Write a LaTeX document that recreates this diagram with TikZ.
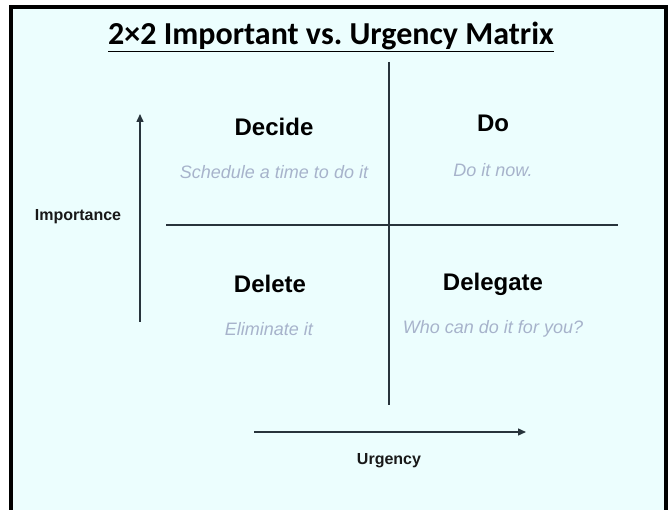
\documentclass[tikz,border=0pt]{standalone}
\usepackage{fontspec}
\setmainfont{Liberation Sans}
\newfontfamily\titlefont{Carlito}
\usetikzlibrary{arrows.meta}
\definecolor{bgcyan}{RGB}{236,254,254}
\definecolor{axisc}{RGB}{40,52,60}
\definecolor{subc}{RGB}{167,179,203}
\frenchspacing
\begin{document}
\begin{tikzpicture}[x=1pt,y=-1pt,
  head/.style={font=\fontsize{24}{28}\selectfont\bfseries, text=black, inner sep=0pt},
  sub/.style={font=\fontsize{18}{22}\selectfont\itshape, text=subc, inner sep=0pt},
  axlabel/.style={font=\fontsize{16}{19}\selectfont\bfseries, text=black!90, inner sep=0pt},
  axisline/.style={draw=axisc, line width=1.4pt},
  axisarrow/.style={draw=axisc, line width=1.4pt, -{Triangle[length=8pt,width=7pt]}}]
\useasboundingbox (0,0) rectangle (670,510);
\fill[white] (0,0) rectangle (670,510);
\fill[bgcyan] (11,7) rectangle (666,515);
\draw[black, line width=4pt] (11,520) -- (11,7) -- (666,7) -- (666,520);
% title
\node[inner sep=0pt, font=\titlefont\fontsize{32}{36}\selectfont\bfseries] (title) at (331,37) {\underline{2×2 Important vs.\ Urgency Matrix}};
% matrix lines
\coordinate (vtop) at (389,62);
\coordinate (vbot) at (389,405);
\coordinate (hl) at (166,225);
\coordinate (hr) at (618,225);
\draw[axisline] (vtop) -- (vbot);
\draw[axisline] (hl) -- (hr);
% axes
\coordinate (ia) at (140,322);
\coordinate (ib) at (140,114);
\draw[axisarrow] (ia) -- (ib);
\coordinate (ua) at (254,432);
\coordinate (ub) at (526,432);
\draw[axisarrow] (ua) -- (ub);
\node[axlabel] (imp) at (78,217) {Importance};
\node[axlabel] (urg) at (389,461) {Urgency};
% quadrants
\node[head] (decide) at (274,127) {Decide};
\node[sub] (decsub) at (274,172) {Schedule a time to do it};
\node[head] (do) at (493,123) {Do};
\node[sub] (dosub) at (493,170) {Do it now.};
\node[head] (delete) at (270,284) {Delete};
\node[sub] (delsub) at (269,329) {Eliminate it};
\node[head] (delegate) at (493,284) {Delegate};
\node[sub] (dlgsub) at (493,329) {Who can do it for you?};
\end{tikzpicture}
\end{document}
